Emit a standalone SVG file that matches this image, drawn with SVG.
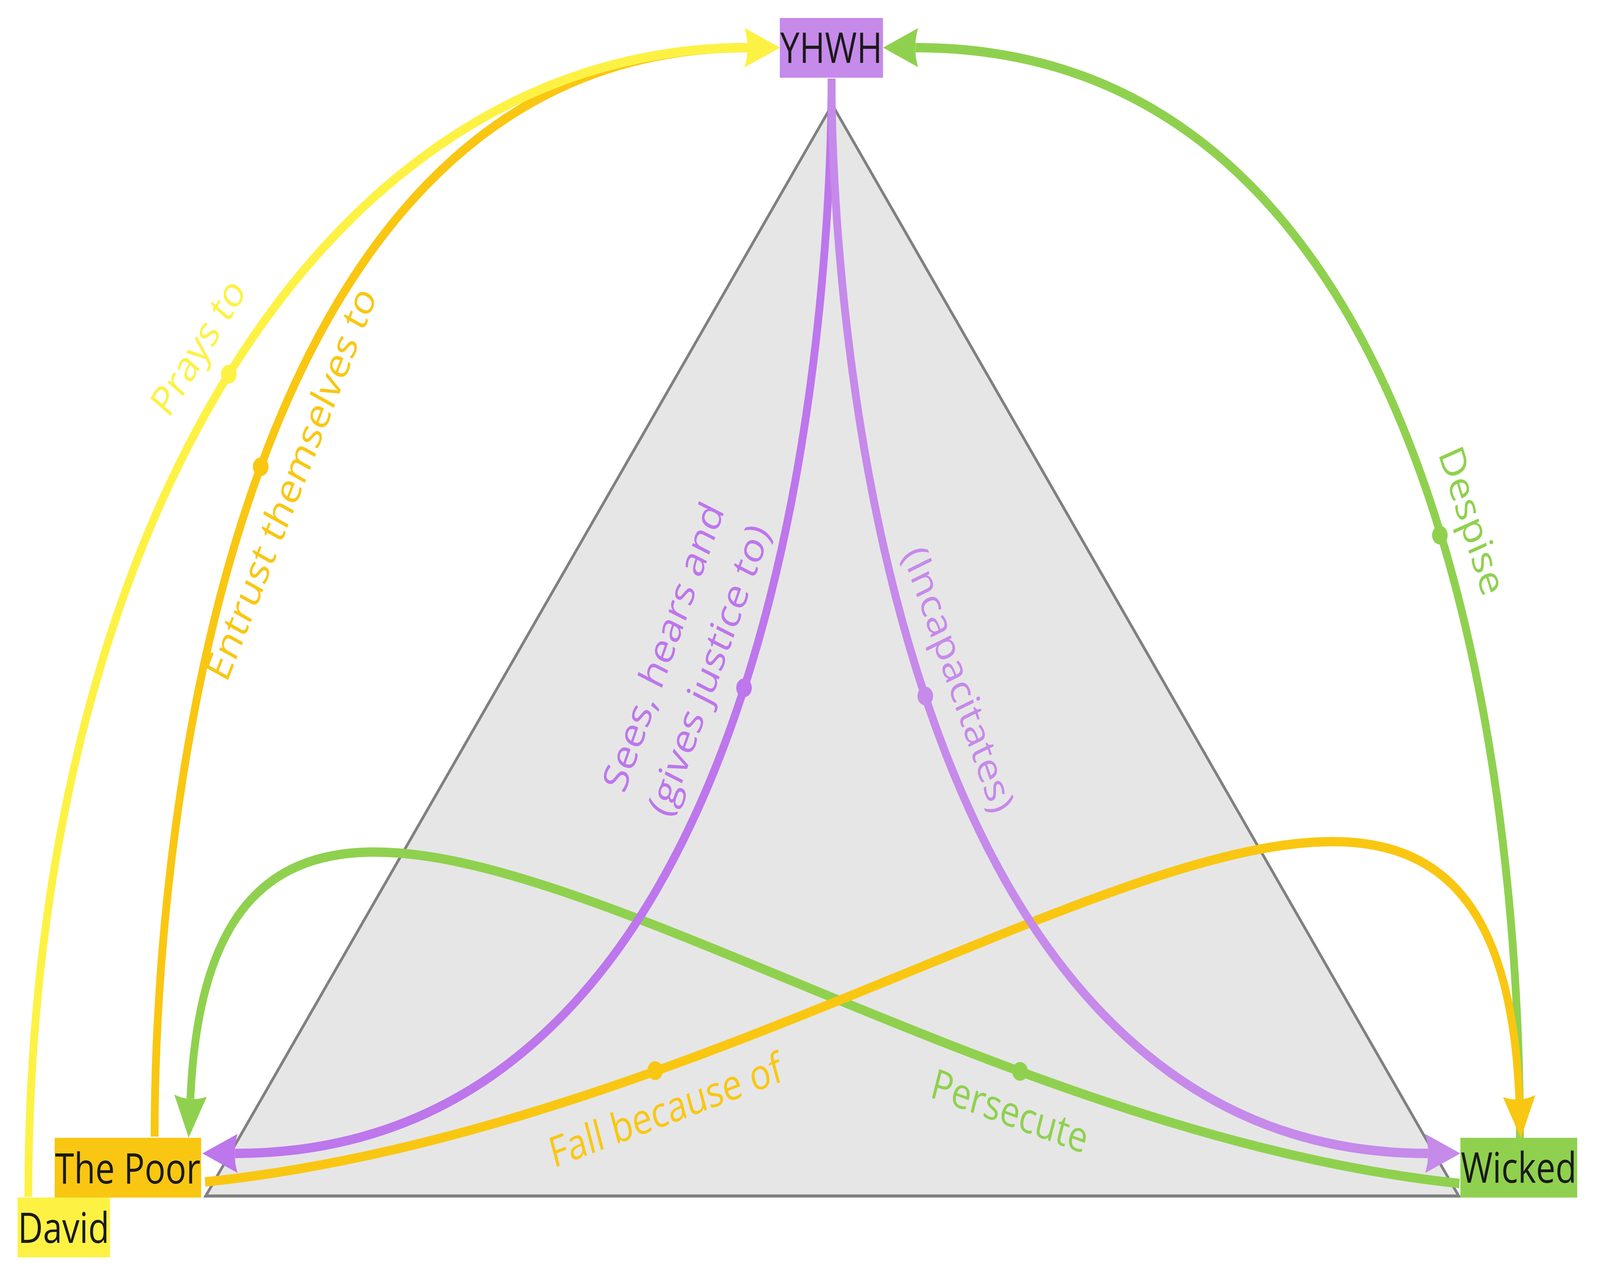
<svg xmlns="http://www.w3.org/2000/svg" width="4916" height="3254" viewBox="0 0 4916 3254" preserveAspectRatio="none">
<style>
:root{width:100vw;height:100vh}
.edge{fill:none;stroke-width:24;stroke-linecap:butt}
.lbl{font-family:"Open Sans","Noto Sans","Liberation Sans",sans-serif;font-size:108px;text-anchor:middle}
.ntx{font-family:"Open Sans","Noto Sans","Liberation Sans",sans-serif;font-size:108px;fill:#1a1a1a}
.yel{stroke:#fdf244}.gld{stroke:#f9c712}.grn{stroke:#8fd14f}.pur{stroke:#bd76ec}.pur2{stroke:#c68aea}
</style>
<defs>
<marker id="ah-yel" markerUnits="userSpaceOnUse" orient="auto" refX="8" refY="0" markerWidth="120" markerHeight="120" style="overflow:visible"><path d="M108,0 L0,-50 Q10,-22 8,0 Q10,22 0,50 Z" fill="#fdf244"/></marker>
<marker id="ah-gld" markerUnits="userSpaceOnUse" orient="auto" refX="8" refY="0" markerWidth="120" markerHeight="120" style="overflow:visible"><path d="M108,0 L0,-50 Q10,-22 8,0 Q10,22 0,50 Z" fill="#f9c712"/></marker>
<marker id="ah-grn" markerUnits="userSpaceOnUse" orient="auto" refX="8" refY="0" markerWidth="120" markerHeight="120" style="overflow:visible"><path d="M108,0 L0,-50 Q10,-22 8,0 Q10,22 0,50 Z" fill="#8fd14f"/></marker>
<marker id="ah-pur" markerUnits="userSpaceOnUse" orient="auto" refX="8" refY="0" markerWidth="120" markerHeight="120" style="overflow:visible"><path d="M108,0 L0,-50 Q10,-22 8,0 Q10,22 0,50 Z" fill="#bd76ec"/></marker>
<marker id="ah-pur2" markerUnits="userSpaceOnUse" orient="auto" refX="8" refY="0" markerWidth="120" markerHeight="120" style="overflow:visible"><path d="M108,0 L0,-50 Q10,-22 8,0 Q10,22 0,50 Z" fill="#c68aea"/></marker>
</defs>
<rect width="4916" height="3254" fill="#ffffff"/>
<g id="triangle">
<polygon points="2557,268 632,3062 4482,3062" fill="#e6e6e6" stroke="#808080" stroke-width="8"/>
</g>
<g id="connectors">
<g id="edge-despise">
<path class="edge grn" d="M4670,2913 C4670,2520 4642,122 2813,122" marker-end="url(#ah-grn)"/>
<circle cx="4424" cy="1370" r="24" fill="#8fd14f"/>
<g transform="translate(4424,1370) rotate(69.5)"><text class="lbl" x="0" y="-68" fill="#8fd14f">Despise</text></g>
</g>
<g id="edge-persecute">
<path class="edge grn" d="M4484,3030 C2501,2854 662,1355 585,2813" marker-end="url(#ah-grn)"/>
<circle cx="3134" cy="2743" r="24" fill="#8fd14f"/>
<g transform="translate(3134,2743) rotate(17)"><text class="lbl" x="0" y="144" fill="#8fd14f">Persecute</text></g>
</g>
<g id="edge-fall">
<path class="edge gld" d="M630,3026 C2755,2840 4595,1301 4668,2814" marker-end="url(#ah-gld)"/>
<circle cx="2013" cy="2741" r="24" fill="#f9c712"/>
<g transform="translate(2013,2741) rotate(-17.5)"><text class="lbl" x="0" y="144" fill="#f9c712">Fall because of</text></g>
</g>
<g id="edge-entrust">
<path class="edge gld" d="M475,2910 C475,2054 737,122 2296,122" marker-end="url(#ah-gld)"/>
<circle cx="801" cy="1195" r="24" fill="#f9c712"/>
<g transform="translate(801,1195) rotate(-65)"><text class="lbl" x="0" y="140" fill="#f9c712">Entrust themselves to</text></g>
</g>
<g id="edge-prays">
<path class="edge yel" d="M87,3064 C87,1371 993,122 2296,122" marker-end="url(#ah-yel)"/>
<circle cx="703" cy="958" r="24" fill="#fdf244"/>
<g transform="translate(703,958) rotate(-53.5)"><text class="lbl" x="0" y="-80" fill="#fdf244">Prays to</text></g>
</g>
<g id="edge-sees">
<path class="edge pur" d="M2555,201 C2555,692 2450,2953 722,2953" marker-end="url(#ah-pur)"/>
<circle cx="2286" cy="1761" r="24" fill="#bd76ec"/>
<g transform="translate(2286,1761) rotate(-67)"><text class="lbl" fill="#bd76ec"><tspan x="0" y="-232">Sees, hears and</tspan><tspan x="0" y="-80">(gives justice to)</tspan></text></g>
</g>
<g id="edge-incapacitates">
<path class="edge pur2" d="M2555,201 C2555,748 2710,2953 4387,2953" marker-end="url(#ah-pur2)"/>
<circle cx="2843" cy="1782" r="24" fill="#c68aea"/>
<g transform="translate(2843,1782) rotate(67.5)"><text class="lbl" x="0" y="-74" fill="#c68aea">(Incapacitates)</text></g>
</g>
</g>
<g id="node-yhwh">
<rect x="2396" y="46" width="317" height="153" fill="#c68aea"/>
<text class="ntx" x="2397" y="161" textLength="314" lengthAdjust="spacingAndGlyphs">YHWH</text>
</g>
<g id="node-the-poor">
<rect x="168" y="2913" width="450" height="153" fill="#f9c712"/>
<text class="ntx" x="169" y="3030" textLength="447" lengthAdjust="spacingAndGlyphs">The Poor</text>
</g>
<g id="node-david">
<rect x="54" y="3066" width="284" height="153" fill="#fdf244"/>
<text class="ntx" x="55" y="3182" textLength="281" lengthAdjust="spacingAndGlyphs">David</text>
</g>
<g id="node-wicked">
<rect x="4487" y="2913" width="359" height="153" fill="#8fd14f"/>
<text class="ntx" x="4488" y="3028" textLength="356" lengthAdjust="spacingAndGlyphs">Wicked</text>
</g>
</svg>
